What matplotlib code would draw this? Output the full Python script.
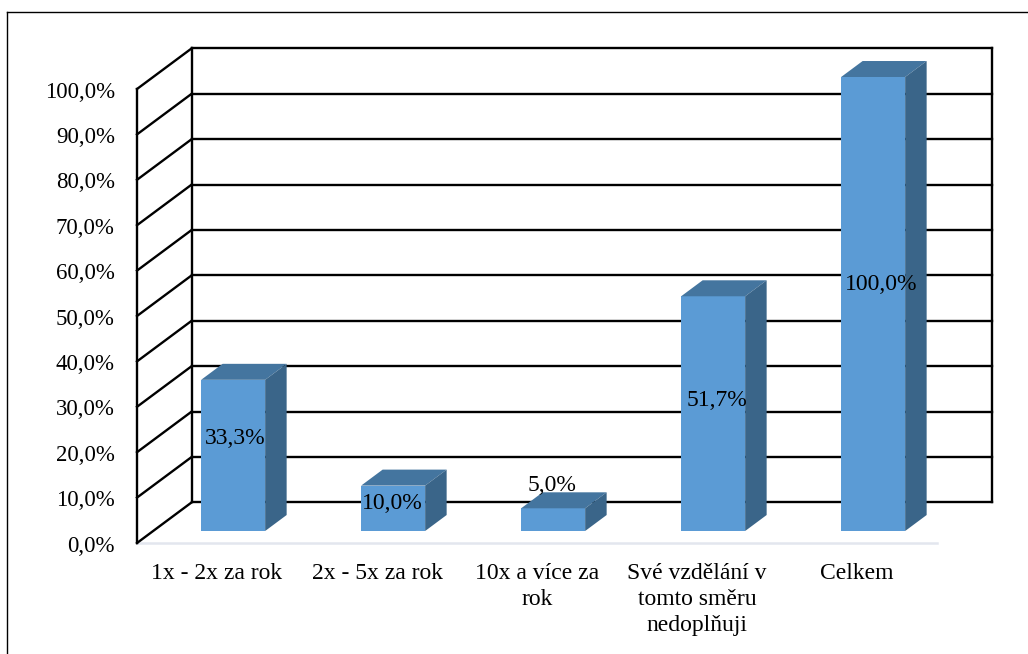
import matplotlib.pyplot as plt
from matplotlib.lines import Line2D
from matplotlib.patches import Polygon
from matplotlib.transforms import ScaledTranslation

categories = [
    "1x - 2x za rok",
    "2x - 5x za rok",
    "10x a více za\nrok",
    "Své vzdělání v\ntomto směru\nnedoplňuji",
    "Celkem",
]
values = [33.3, 10.0, 5.0, 51.7, 100.0]
value_labels = ["33,3%", "10,0%", "5,0%", "51,7%", "100,0%"]
y_ticks = [0, 10, 20, 30, 40, 50, 60, 70, 80, 90, 100]
y_tick_labels = ["%d,0%%" % t for t in y_ticks]

# label shift from the middle of each bar front, in data units
label_shift_x = [0.015, -0.005, -0.008, 0.026, 0.05]
label_shift_y = [3.7, 1.1, 7.5, 2.9, 4.3]

WIDTH, HEIGHT = 1028, 654
FRONT_COLOR = "#5B9BD5"
TOP_COLOR = "#44759F"
SIDE_COLOR = "#3A6589"
WALL_DX = 0.342
WALL_DY = 8.96
BAR_FRONT = 0.295
BAR_BACK = 0.688
BAR_WIDTH = 0.4

plt.rcParams["font.family"] = ["Liberation Serif", "DejaVu Serif"]


def at_depth(x, y, depth):
    # oblique projection: going back moves a point right and up
    return x + depth * WALL_DX, y + depth * WALL_DY


fig = plt.figure(figsize=(WIDTH / 100, HEIGHT / 100), dpi=100)
ax = fig.add_axes([137 / WIDTH, (HEIGHT - 543) / HEIGHT, 800 / WIDTH, 454 / HEIGHT])
ax.set_xlim(-0.5, 4.5)
ax.set_ylim(0, 100)
for spine in ax.spines.values():
    spine.set_visible(False)

ax.set_yticks(y_ticks)
ax.set_yticklabels(y_tick_labels, fontsize=16.5, color="black")
ax.set_xticks(range(len(categories)))
ax.set_xticklabels(categories, fontsize=17, color="black", linespacing=1.33)
ax.tick_params(axis="y", length=0, pad=16)
ax.tick_params(axis="x", length=0, pad=14.2)

# y labels sit slightly below their grid lines
label_drop = ScaledTranslation(0, -0.6 / 100, fig.dpi_scale_trans)
for label in ax.get_yticklabels():
    label.set_transform(label.get_transform() + label_drop)

# floor edge
ax.plot([-0.5, 4.5], [0, 0], color="#E3E6EE", lw=1.8, clip_on=False, zorder=1)

# side wall and back wall grid
wall_kw = dict(color="black", lw=1.7, clip_on=False, zorder=2, solid_capstyle="projecting")
right_x, _ = at_depth(4.5, 0, 1)
for t in y_ticks:
    back_x, back_y = at_depth(-0.5, t, 1)
    ax.plot([-0.5, back_x], [t, back_y], **wall_kw)
    ax.plot([back_x, right_x], [back_y, back_y], **wall_kw)
ax.plot([-0.5, -0.5], [0, 100], **wall_kw)
for x in [-0.5, 4.5]:
    xb, y0 = at_depth(x, 0, 1)
    _, y1 = at_depth(x, 100, 1)
    ax.plot([xb, xb], [y0, y1], **wall_kw)

# bars: front face, then top and side faces
for i, v in enumerate(values):
    fx, base = at_depth(i, 0, BAR_FRONT)
    ax.bar(fx, v, bottom=base, width=BAR_WIDTH, color=FRONT_COLOR, clip_on=False, zorder=4)
    left, right = i - BAR_WIDTH / 2, i + BAR_WIDTH / 2
    top = Polygon(
        [
            at_depth(left, v, BAR_FRONT),
            at_depth(right, v, BAR_FRONT),
            at_depth(right, v, BAR_BACK),
            at_depth(left, v, BAR_BACK),
        ],
        facecolor=TOP_COLOR,
        edgecolor="none",
        clip_on=False,
        zorder=4,
    )
    side = Polygon(
        [
            at_depth(right, 0, BAR_FRONT),
            at_depth(right, 0, BAR_BACK),
            at_depth(right, v, BAR_BACK),
            at_depth(right, v, BAR_FRONT),
        ],
        facecolor=SIDE_COLOR,
        edgecolor="none",
        clip_on=False,
        zorder=4,
    )
    ax.add_patch(top)
    ax.add_patch(side)
    ax.text(
        fx + label_shift_x[i],
        base + v / 2 + label_shift_y[i],
        value_labels[i],
        ha="center",
        va="center",
        fontsize=17,
        color="black",
        zorder=6,
    )

# outer frame, only the top and left edges are inside the canvas
frame_x, frame_y = 6.7 / WIDTH, 1 - 12.2 / HEIGHT
fig.add_artist(Line2D([frame_x, frame_x], [0, frame_y], color="black", lw=1.0))
fig.add_artist(Line2D([frame_x, 1], [frame_y, frame_y], color="black", lw=1.0))

fig.savefig("out.png", dpi=100)
